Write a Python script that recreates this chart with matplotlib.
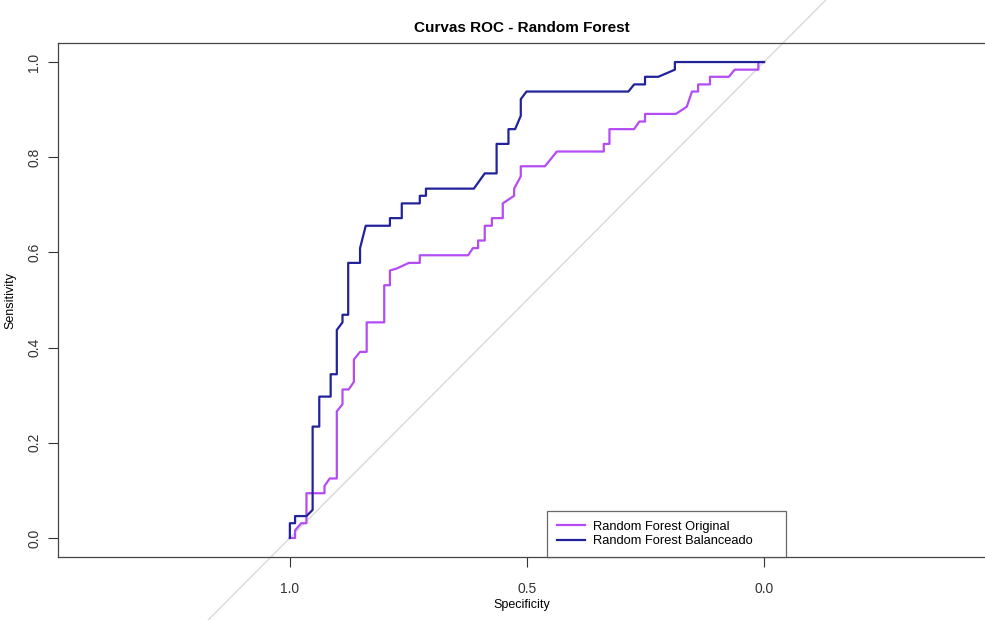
import matplotlib
matplotlib.use("Agg")
import matplotlib.pyplot as plt

plt.rcParams['font.family'] = ['Liberation Sans', 'DejaVu Sans']

# ROC points (specificity, sensitivity) for each model
spec_original = [1.0, 0.989, 0.989, 0.976, 0.965, 0.965, 0.927, 0.927, 0.916, 0.901,
                 0.901, 0.889, 0.889, 0.876, 0.865, 0.865, 0.852, 0.838, 0.838, 0.801,
                 0.801, 0.789, 0.789, 0.775, 0.749, 0.726, 0.726, 0.624, 0.614, 0.603,
                 0.603, 0.589, 0.589, 0.574, 0.574, 0.551, 0.551, 0.527, 0.527, 0.513,
                 0.513, 0.462, 0.437, 0.338, 0.338, 0.326, 0.326, 0.274, 0.263, 0.251,
                 0.251, 0.186, 0.163, 0.152, 0.139, 0.139, 0.114, 0.114, 0.074, 0.062,
                 0.012, 0.012, 0.0]
sens_original = [0.0, 0.0, 0.016, 0.031, 0.031, 0.094, 0.094, 0.109, 0.125, 0.125,
                 0.266, 0.281, 0.312, 0.312, 0.328, 0.375, 0.391, 0.391, 0.453, 0.453,
                 0.531, 0.531, 0.562, 0.566, 0.578, 0.578, 0.594, 0.594, 0.609, 0.609,
                 0.625, 0.625, 0.656, 0.656, 0.672, 0.672, 0.703, 0.719, 0.734, 0.760,
                 0.781, 0.781, 0.812, 0.812, 0.828, 0.828, 0.859, 0.859, 0.875, 0.875,
                 0.891, 0.891, 0.906, 0.938, 0.938, 0.953, 0.953, 0.969, 0.969, 0.984,
                 0.984, 1.0, 1.0]

spec_balanced = [1.0, 1.0, 0.989, 0.989, 0.965, 0.952, 0.952, 0.938, 0.938, 0.914,
                 0.914, 0.901, 0.901, 0.889, 0.889, 0.877, 0.877, 0.852, 0.852, 0.840,
                 0.789, 0.789, 0.764, 0.764, 0.726, 0.726, 0.713, 0.713, 0.612, 0.589,
                 0.564, 0.564, 0.539, 0.539, 0.525, 0.513, 0.513, 0.501, 0.286, 0.274,
                 0.251, 0.251, 0.223, 0.188, 0.188, 0.0]
sens_balanced = [0.0, 0.031, 0.031, 0.046, 0.046, 0.059, 0.234, 0.234, 0.297, 0.297,
                 0.344, 0.344, 0.437, 0.453, 0.469, 0.469, 0.578, 0.578, 0.609, 0.656,
                 0.656, 0.672, 0.672, 0.703, 0.703, 0.719, 0.719, 0.734, 0.734, 0.766,
                 0.766, 0.828, 0.828, 0.859, 0.859, 0.887, 0.922, 0.938, 0.938, 0.953,
                 0.953, 0.969, 0.969, 0.984, 1.0, 1.0]

labels = ["Random Forest Original", "Random Forest Balanceado"]
colors = ["#B44CF5", "#22229A"]
ticks = [1.0, 0.5, 0.0]
yticks = [0.0, 0.2, 0.4, 0.6, 0.8, 1.0]

fig = plt.figure(figsize=(9.85, 6.2), dpi=100)
ax = fig.add_axes([58 / 985, 63 / 620, 927 / 985, 514 / 620])

# chance line, drawn past the plot region like pROC does
ax.plot([1.3, -0.25], [-0.3, 1.25], color="#D9D9D9", lw=1, clip_on=False, zorder=1)

ax.plot(spec_original, sens_original, color=colors[0], lw=1.6, label=labels[0], zorder=3)
ax.plot(spec_balanced, sens_balanced, color=colors[1], lw=1.6, label=labels[1], zorder=3)

ax.set_xlim(1.489, -0.466)
ax.set_ylim(-0.04, 1.04)
ax.set_xticks(ticks)
ax.set_xticklabels(["1.0", "0.5", "0.0"])
ax.set_yticks(yticks)
ax.set_yticklabels(["0.0", "0.2", "0.4", "0.6", "0.8", "1.0"], rotation=90, va="center")
ax.tick_params(length=7, width=0.8, colors="#333333", labelsize=10)
ax.tick_params(axis="x", pad=11)
ax.tick_params(axis="y", pad=5)

for side in ["top", "bottom", "left"]:
    ax.spines[side].set_color("#444444")
    ax.spines[side].set_linewidth(0.9)
ax.spines["right"].set_visible(False)

ax.set_xlabel("Specificity", fontsize=9, labelpad=2)
ax.set_ylabel("Sensitivity", fontsize=9, labelpad=8)
ax.set_title("Curvas ROC - Random Forest", fontsize=11, fontweight="bold", pad=8)

leg = ax.legend(loc="lower left", bbox_to_anchor=((547 - 58) / 927, 0.0, (786 - 547) / 927, 0.09),
                mode="expand", fontsize=9.3, frameon=True, fancybox=False, borderaxespad=0,
                handlelength=2.2, handletextpad=0.6, labelspacing=0.2, borderpad=0.75)
leg.get_frame().set_edgecolor("#444444")
leg.get_frame().set_linewidth(0.9)

fig.savefig("out.png", dpi=100)
